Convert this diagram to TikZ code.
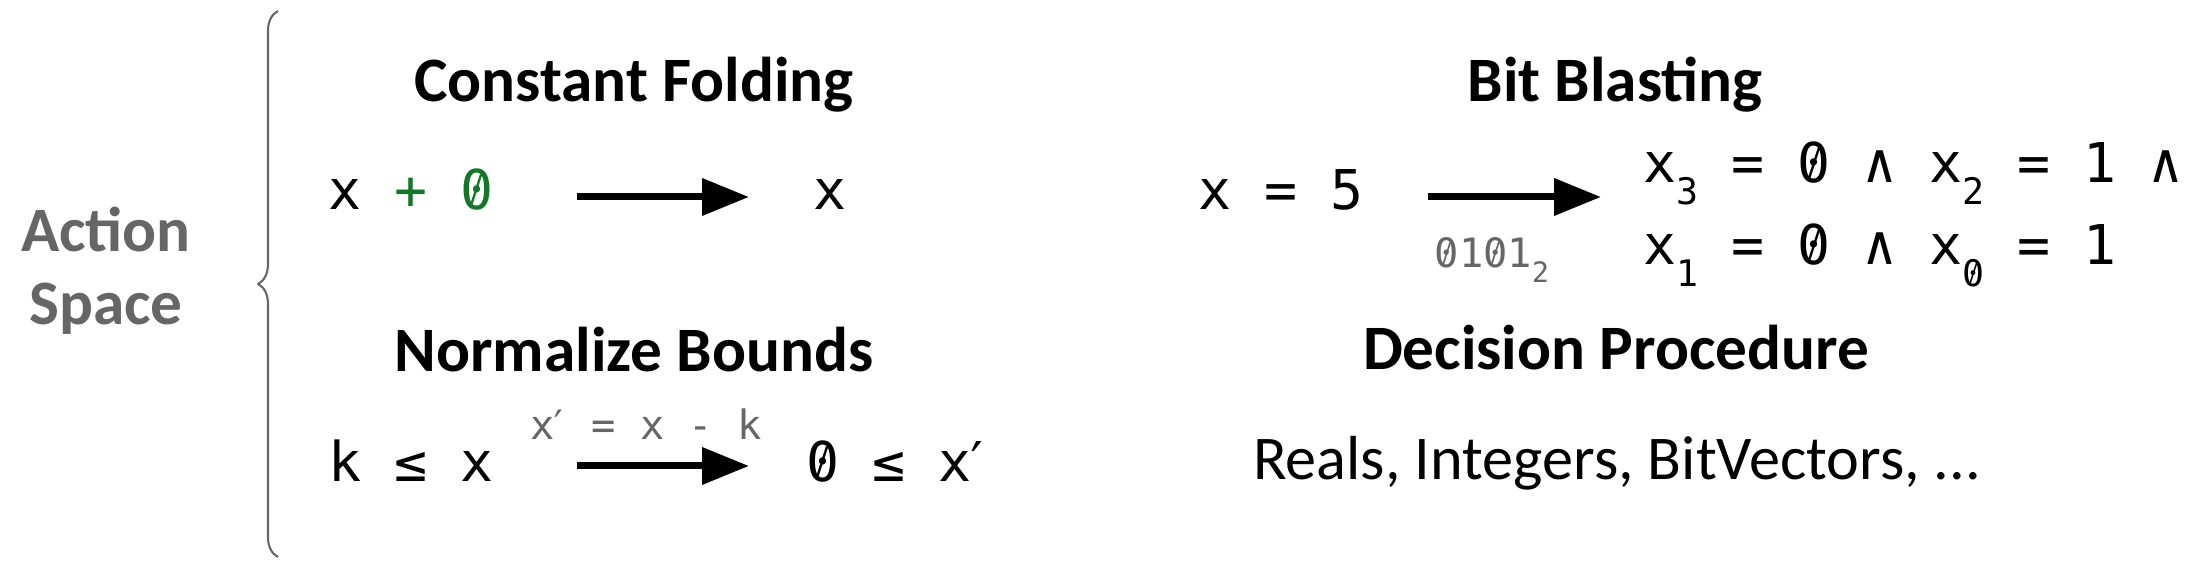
\documentclass[tikz,border=0pt]{standalone}
\usepackage{fontspec}
\usepackage{graphicx}
\setmainfont{Carlito}
\setmonofont{DejaVu Sans Mono}
\usetikzlibrary{arrows.meta,decorations.pathreplacing}
\definecolor{foldgreen}{RGB}{20,118,40}
\definecolor{labelgray}{RGB}{102,102,102}
\newcommand\sbs[1]{\raisebox{-6pt}{\fontsize{10.4}{10}\selectfont #1}}
\newcommand\prm{\makebox[0.3em][l]{\kern-0.2em′}}
\newcommand\zr{\makebox[0pt][l]{0}\makebox[0.602em]{\raisebox{0.12em}{\scalebox{0.5}[0.72]{/}}}}
\begin{document}
\begin{tikzpicture}[x=1cm,y=1cm,line join=round,
	title/.style={font=\fontsize{18}{20}\selectfont\bfseries,inner sep=0pt,anchor=base},
	term/.style={font=\fontsize{15.6}{18}\selectfont\ttfamily,inner sep=0pt,anchor=base west},
	note/.style={font=\fontsize{11.5}{13}\selectfont\ttfamily,text=labelgray,inner sep=0pt,anchor=base west},
	flow/.style={line width=2pt,-{Triangle[length=0.47cm,width=0.36cm]}}]
			\useasboundingbox (0,0) rectangle (22,5.7);
			% action space brace
			\node[title,text=labelgray] (actA) at (1.06,3.18) {Action};
			\node[title,text=labelgray] (actS) at (1.06,2.45) {Space};
			\coordinate (BB) at (2.78,0.13);
			\coordinate (BT) at (2.78,5.59);
			\draw[labelgray,line width=0.6pt,decorate,decoration={brace,amplitude=0.2cm}] (BB)--(BT);
			% constant folding
			\node[title] (cf) at (6.34,4.68) {Constant Folding};
			\node[term] (cfin) at (3.28,3.60) {x \textcolor{foldgreen}{+ \zr}};
			\node[term,anchor=base] (cfout) at (8.30,3.60) {x};
			\coordinate (CA) at (5.77,3.73);
			\coordinate (CB) at (7.49,3.73);
			\draw[flow] (CA)--(CB);
			% normalize bounds
			\node[title] (nb) at (6.34,1.98) {Normalize Bounds};
			\node[term] (nbin) at (3.28,0.88) {k ≤ x};
			\node[note] (nbnote) at (5.30,1.30) {x\prm{} = x - k};
			\node[term] (nbout) at (8.06,0.88) {\zr{} ≤ x\prm};
			\coordinate (NA) at (5.77,1.04);
			\coordinate (NB) at (7.49,1.04);
			\draw[flow] (NA)--(NB);
			% bit blasting
			\node[title] (bb) at (16.15,4.68) {Bit Blasting};
			\node[term] (bbin) at (11.98,3.60) {x = 5};
			\node[note] (bbnote) at (14.34,3.02) {\zr1\zr1\raisebox{-4pt}{\fontsize{8}{8}\selectfont 2}};
			\node[term] (bbup) at (16.43,3.87) {x\sbs{3} = \zr{} ∧ x\sbs{2} = 1 ∧};
			\node[term] (bblo) at (16.43,3.05) {x\sbs{1} = \zr{} ∧ x\sbs{\zr} = 1};
			\coordinate (BA) at (14.28,3.73);
			\coordinate (BC) at (16.01,3.73);
			\draw[flow] (BA)--(BC);
			% decision procedure
			\node[title] (dp) at (16.16,2.00) {Decision Procedure};
			\node[title,font=\fontsize{17.7}{20}\selectfont] (dpt) at (16.17,0.90) {Reals, Integers, BitVectors, ...};
		\end{tikzpicture}
\end{document}
